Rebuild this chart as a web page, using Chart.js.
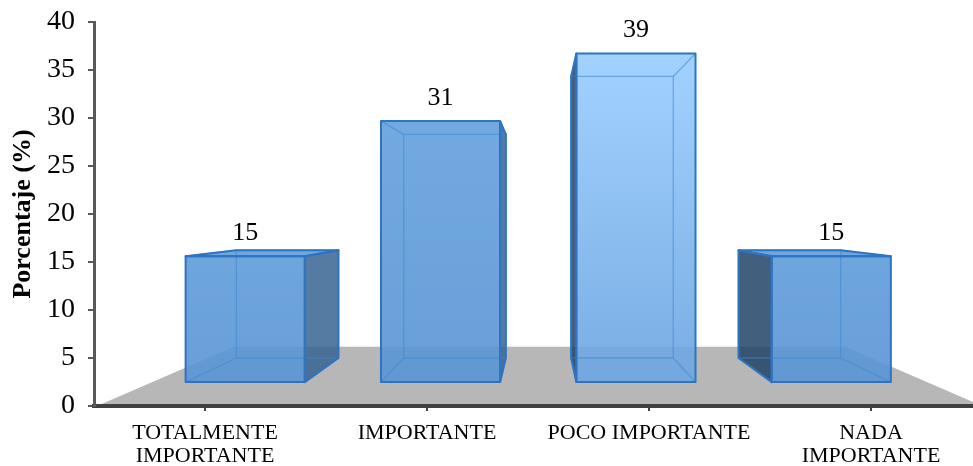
<!DOCTYPE html>
<html>
<head>
<meta charset="utf-8">
<script src="https://cdn.jsdelivr.net/npm/chart.js@4/dist/chart.umd.min.js"></script>
<style>
  html, body { margin: 0; padding: 0; background: #ffffff; }
  #wrap { width: 973px; height: 466px; }
</style>
</head>
<body>
<div id="wrap"><canvas id="chart" width="973" height="466"></canvas></div>
<script>
// Categories and their percentages
const categories = [['TOTALMENTE', 'IMPORTANTE'], 'IMPORTANTE', 'POCO IMPORTANTE', ['NADA', 'IMPORTANTE']];
const percentages = [15, 31, 39, 15];

// Value axis range
const axisMin = 0;
const axisMax = 40;
const axisStep = 5;

// Face colours per column (top / bottom of the front face gradient)
const frontTop = ['#5e9cdb', '#62a0dd', '#98cdff', '#5e9cdb'];
const frontBottom = ['#5995d5', '#5995d5', '#6ba5e1', '#5995d5'];

const SERIF = "'Liberation Serif', 'Times New Roman', serif";

// Perspective: floor front edge = depth 1, columns sit between front/back depths
const DEPTH_FRONT = 0.88;
const DEPTH_BACK = 0.754;
const DEPTH_FLOOR_BACK = 0.691;
const VIEW_SHIFT_X = 2;
// The floor runs a little past the right edge of the canvas
const PLOT_OVERHANG = 9;

function projector(chart) {
  const ca = chart.chartArea;
  const vx = (ca.left + ca.right) / 2 + VIEW_SHIFT_X;
  const vy = (ca.top + ca.bottom) / 2;
  return (x, y, f) => [vx + f * (x - vx), vy + f * (y - vy)];
}

function poly(ctx, pts) {
  ctx.beginPath();
  ctx.moveTo(pts[0][0], pts[0][1]);
  for (let i = 1; i < pts.length; i++) ctx.lineTo(pts[i][0], pts[i][1]);
  ctx.closePath();
}

const box3d = {
  id: 'box3d',
  afterLayout(chart) {
    // widen the category axis so the floor continues beyond the canvas edge
    const xs = chart.scales.x;
    const right = chart.width + PLOT_OVERHANG;
    xs.right = right;
    xs.width = right - xs.left;
    xs.configure();
    chart.chartArea.right = right;
    chart.chartArea.width = right - chart.chartArea.left;
  },
  beforeDraw(chart) {
    // grey floor under the columns
    const ctx = chart.ctx;
    const ca = chart.chartArea;
    const P = projector(chart);
    const y0 = chart.scales.y.getPixelForValue(0);
    const left = ca.left + 3;
    const pts = [
      [left, y0], [ca.right, y0],
      P(ca.right, y0, DEPTH_FLOOR_BACK), P(left, y0, DEPTH_FLOOR_BACK)
    ];
    ctx.save();
    ctx.fillStyle = '#b7b7b7';
    poly(ctx, pts);
    ctx.fill();
    ctx.restore();
  },
  afterDatasetsDraw(chart) {
    const ctx = chart.ctx;
    const P = projector(chart);
    const vx = (chart.chartArea.left + chart.chartArea.right) / 2 + VIEW_SHIFT_X;
    const meta = chart.getDatasetMeta(0);
    meta.data.forEach((el, i) => {
      const { x, y, base, width } = el.getProps(['x', 'y', 'base', 'width'], true);
      const L = x - width / 2, R = x + width / 2;
      const fTL = P(L, y, DEPTH_FRONT), fTR = P(R, y, DEPTH_FRONT);
      const fBL = P(L, base, DEPTH_FRONT), fBR = P(R, base, DEPTH_FRONT);
      const bTL = P(L, y, DEPTH_BACK), bTR = P(R, y, DEPTH_BACK);
      const bBL = P(L, base, DEPTH_BACK), bBR = P(R, base, DEPTH_BACK);

      ctx.save();
      // visible side face
      const rightSide = x < vx;
      ctx.globalAlpha = 0.85;
      ctx.fillStyle = rightSide ? '#376493' : '#214367';
      poly(ctx, rightSide ? [fTR, bTR, bBR, fBR] : [fTL, bTL, bBL, fBL]);
      ctx.fill();

      // top face when it is seen from above
      ctx.globalAlpha = 0.9;
      if (bTL[1] < fTL[1]) {
        ctx.fillStyle = frontTop[i];
        poly(ctx, [fTL, fTR, bTR, bTL]);
        ctx.fill();
      }

      // front face
      const g = ctx.createLinearGradient(0, fTL[1], 0, fBL[1]);
      g.addColorStop(0, frontTop[i]);
      g.addColorStop(1, frontBottom[i]);
      ctx.fillStyle = g;
      poly(ctx, [fTL, fTR, fBR, fBL]);
      ctx.fill();
      ctx.globalAlpha = 1;

      // hidden edges seen through the glass
      ctx.strokeStyle = 'rgba(60,135,210,0.55)';
      ctx.lineWidth = 1.3;
      ctx.lineJoin = 'round';
      poly(ctx, [bTL, bTR, bBR, bBL]);
      ctx.stroke();
      [[fTL, bTL], [fTR, bTR], [fBL, bBL], [fBR, bBR]].forEach(([a, b]) => {
        ctx.beginPath(); ctx.moveTo(a[0], a[1]); ctx.lineTo(b[0], b[1]); ctx.stroke();
      });

      // outer edges
      ctx.strokeStyle = '#2f74c0';
      ctx.lineWidth = 2;
      poly(ctx, [fTL, fTR, fBR, fBL]);
      ctx.stroke();
      const side = rightSide ? [fTR, bTR, bBR, fBR] : [fTL, bTL, bBL, fBL];
      poly(ctx, side);
      ctx.stroke();
      if (bTL[1] < fTL[1]) {
        poly(ctx, [fTL, fTR, bTR, bTL]);
        ctx.stroke();
      }

      // value label
      ctx.fillStyle = '#000000';
      ctx.font = '26px ' + SERIF;
      ctx.textAlign = 'center';
      ctx.textBaseline = 'middle';
      ctx.fillText(String(percentages[i]), (fTL[0] + fTR[0]) / 2, fTL[1] - 23);
      ctx.restore();
    });
  }
};

new Chart(document.getElementById('chart'), {
  type: 'bar',
  data: {
    labels: categories,
    datasets: [{
      data: percentages,
      backgroundColor: 'rgba(0,0,0,0)',
      borderWidth: 0,
      barPercentage: 0.61,
      categoryPercentage: 1
    }]
  },
  options: {
    responsive: false,
    devicePixelRatio: 1,
    animation: false,
    events: [],
    layout: { padding: { top: 22, right: 0, left: 0, bottom: 0 } },
    plugins: {
      legend: { display: false },
      tooltip: { enabled: false }
    },
    scales: {
      x: {
        type: 'category',
        offset: true,
        grid: { display: true, drawOnChartArea: false, drawTicks: true, tickLength: 5, color: '#404040', lineWidth: 2, offset: false },
        border: { display: true, color: '#404040', width: 4 },
        ticks: { color: '#000000', font: { family: SERIF, size: 22, lineHeight: 1.08 }, padding: 10, maxRotation: 0, autoSkip: false },
        afterFit(scale) {
          scale.height = 60;
          scale.paddingLeft = 0;
          scale.paddingRight = 0;
        }
      },
      y: {
        min: axisMin,
        max: axisMax,
        ticks: { stepSize: axisStep, color: '#000000', font: { family: SERIF, size: 28 }, padding: 13 },
        grid: { display: true, drawOnChartArea: false, drawTicks: true, tickLength: 6, color: '#595959', lineWidth: 2 },
        border: { display: true, color: '#595959', width: 3 },
        title: {
          display: true,
          text: 'Porcentaje (%)',
          color: '#000000',
          font: { family: SERIF, size: 26, weight: 'bold' },
          padding: { top: 8, bottom: 0 }
        },
        afterFit(scale) {
          scale.width = 94;
          scale.paddingTop = 0;
          scale.paddingBottom = 0;
        }
      }
    }
  },
  plugins: [box3d]
});
</script>
</body>
</html>
